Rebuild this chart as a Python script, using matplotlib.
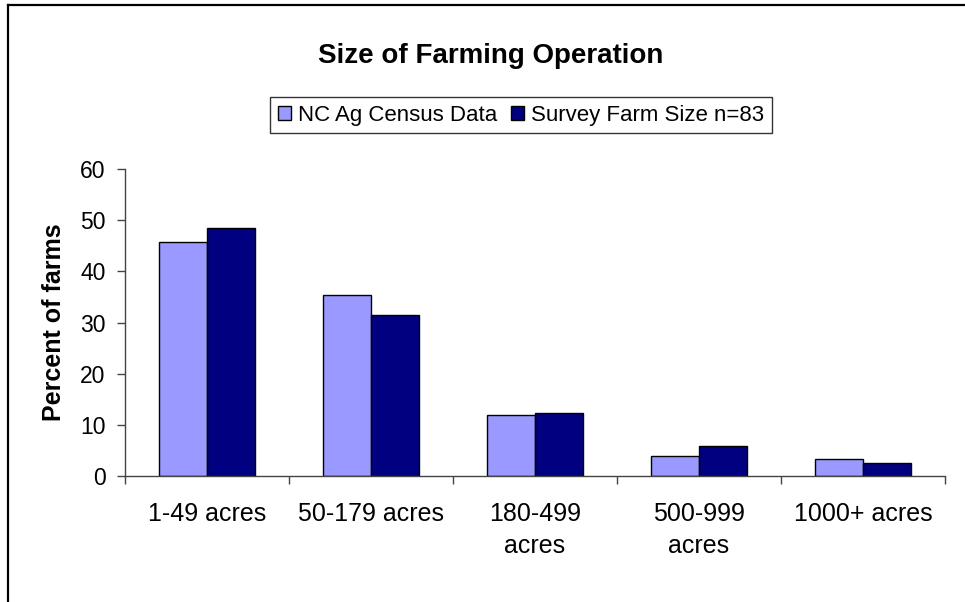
import matplotlib.pyplot as plt
import numpy as np
from matplotlib.lines import Line2D

plt.rcParams['font.family'] = ['Liberation Sans', 'DejaVu Sans']

### Data
categories = ['1-49 acres', '50-179 acres', '180-499\nacres', '500-999\nacres', '1000+ acres']
census = [45.8, 35.3, 12.0, 4.0, 3.4]
survey = [48.4, 31.4, 12.3, 5.9, 2.6]
series_names = ['NC Ag Census Data', 'Survey Farm Size n=83']
yticks = [0, 10, 20, 30, 40, 50, 60]

### Figure and axes placement (pixels at 100 dpi)
W, H = 965, 602
fig = plt.figure(figsize=(W / 100, H / 100), dpi=100)
ax = fig.add_axes([125 / W, 1 - 476 / H, (945 - 125) / W, (476 - 169) / H])

x = np.arange(len(categories))
bw = 0.29
ax.bar(x - bw / 2, census, bw, color='#9999FF', edgecolor='black', linewidth=1.0, label=series_names[0])
ax.bar(x + bw / 2, survey, bw, color='#000080', edgecolor='black', linewidth=1.0, label=series_names[1])

ax.set_xlim(-0.5, len(categories) - 0.5)
ax.set_ylim(0, 60)
ax.set_yticks(yticks)
ax.set_xticks(x)
ax.set_xticklabels(categories, linespacing=1.45)
ax.set_xticks(np.arange(len(categories) + 1) - 0.5, minor=True)

axis_col = '#444444'
for s in ['top', 'right']:
    ax.spines[s].set_visible(False)
for s in ['left', 'bottom']:
    ax.spines[s].set_color(axis_col)
    ax.spines[s].set_linewidth(1.0)

ax.tick_params(axis='y', direction='out', length=6, width=1, color=axis_col, labelsize=16.5, pad=8)
ax.tick_params(axis='x', which='major', length=0, labelsize=18, pad=18.5)
ax.tick_params(axis='x', which='minor', direction='out', length=6, width=1, color=axis_col)

ax.set_ylabel('Percent of farms', fontsize=18, fontweight='bold', labelpad=10)

# title
fig.text(491 / W, 1 - 63 / H, 'Size of Farming Operation', ha='center', va='baseline',
         fontsize=20, fontweight='bold')

# legend
leg = ax.legend(loc='center', bbox_to_anchor=(521 / W, 1 - 115 / H), bbox_transform=fig.transFigure,
                ncol=2, fontsize=16, frameon=True, fancybox=False, edgecolor='black',
                handlelength=0.6, handleheight=0.6, handletextpad=0.3, columnspacing=0.6,
                borderpad=0.35, borderaxespad=0)
leg.get_frame().set_linewidth(1.0)

# outer frame (top and left edges visible)
fig.add_artist(Line2D([8 / W, 1], [1 - 5 / H, 1 - 5 / H], transform=fig.transFigure, color='black', lw=1.6))
fig.add_artist(Line2D([8 / W, 8 / W], [1 - 5 / H, 0], transform=fig.transFigure, color='black', lw=1.6))

fig.savefig('out.png', dpi=100)
